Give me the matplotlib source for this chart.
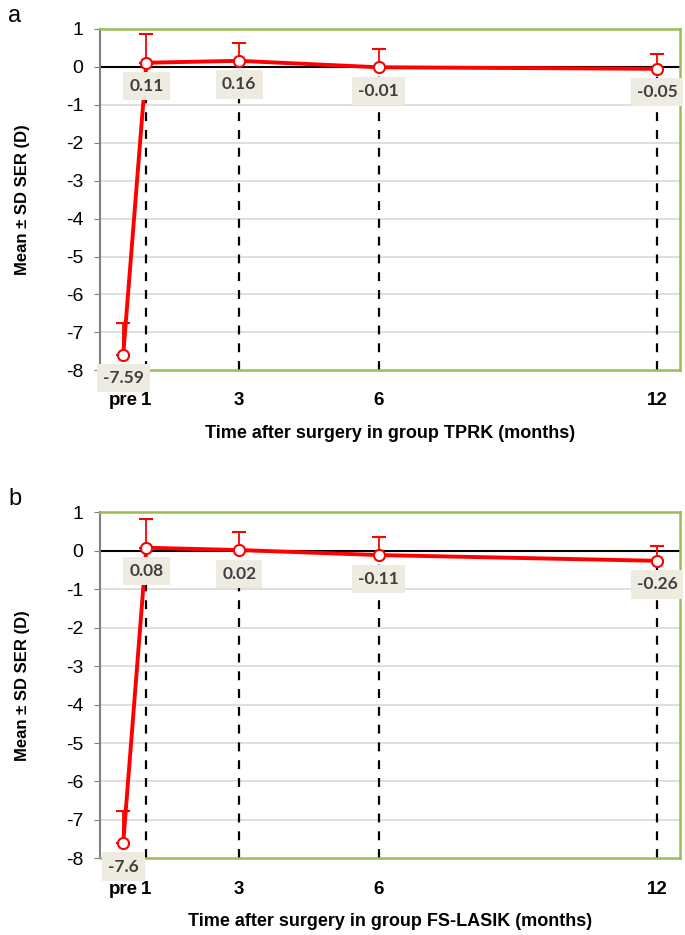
import matplotlib
matplotlib.use('Agg')
import matplotlib.pyplot as plt
import numpy as np

plt.rcParams['font.family'] = ['Liberation Sans', 'DejaVu Sans']

# time points (pre drawn at x=0.5)
tick_labels = ['pre', '1', '3', '6', '12']
x_pos = [0.5, 1, 3, 6, 12]

tprk_mean = [-7.59, 0.11, 0.16, -0.01, -0.05]
tprk_sd = [0.84, 0.76, 0.46, 0.48, 0.40]

lasik_mean = [-7.6, 0.08, 0.02, -0.11, -0.26]
lasik_sd = [0.83, 0.74, 0.46, 0.47, 0.39]

panels = [
    ('a', 'TPRK', tprk_mean, tprk_sd, [0.146, 0.604, 0.847, 0.365]),
    ('b', 'FS-LASIK', lasik_mean, lasik_sd, [0.146, 0.082, 0.847, 0.370]),
]

green = '#9BBB59'
red = '#FF0000'

fig = plt.figure(figsize=(6.85, 9.35), dpi=100)

for letter, group, mean, sd, rect in panels:
    ax = fig.add_axes(rect)
    ax.set_xlim(0, 12.5)
    ax.set_ylim(-8, 1)

    # gridlines
    for yv in range(-7, 1):
        ax.axhline(yv, color='#D9D9D9', linewidth=1.2, zorder=0)
    ax.axhline(0, color='black', linewidth=1.5, zorder=1)

    # dashed drop lines (not for pre)
    for xv, m in zip(x_pos[1:], mean[1:]):
        ax.plot([xv, xv], [-8, m], color='black', linestyle=(0, (4, 4)),
                linewidth=1.6, zorder=2)

    # upper error bars
    ax.errorbar(x_pos, mean, yerr=[np.zeros(len(sd)), sd], fmt='none',
                ecolor=red, elinewidth=1.3, capsize=5, capthick=1.5, zorder=3)

    ax.plot(x_pos, mean, color=red, linewidth=2.8, marker='o',
            markersize=8, markerfacecolor='white', markeredgecolor=red,
            markeredgewidth=1.5, zorder=4, clip_on=False)

    for xv, m in zip(x_pos, mean):
        ax.annotate(f'{m:g}', (xv, m), textcoords='offset points',
                    xytext=(0, -17), ha='center', va='center',
                    fontsize=12.5, fontweight='bold', color='#404040',
                    family=['Lato', 'DejaVu Sans'],
                    bbox=dict(boxstyle='square,pad=0.35', facecolor='#EEECE1',
                              edgecolor='none'),
                    zorder=5, annotation_clip=False)

    ax.set_xticks(x_pos)
    ax.set_xticklabels(tick_labels, fontweight='bold', fontsize=13.5)
    ax.set_yticks(range(-8, 2))
    ax.set_yticklabels([str(v) for v in range(-8, 2)], fontsize=14)
    ax.tick_params(axis='x', length=0, pad=16)
    ax.tick_params(axis='y', length=4, color='#808080', pad=8)

    for side in ['top', 'right', 'bottom']:
        ax.spines[side].set_color(green)
        ax.spines[side].set_linewidth(1.8)
    ax.spines['left'].set_color('#808080')
    ax.spines['left'].set_linewidth(1.5)

    ax.set_xlabel(f'Time after surgery in group {group} (months)',
                  fontsize=13, fontweight='bold', labelpad=11)
    ax.set_ylabel('Mean \u00b1 SD SER (D)', fontsize=12, fontweight='bold',
                  labelpad=26)

    fig.text(0.012, rect[1] + rect[3] + 0.026, letter, fontsize=17,
             va='top', ha='left')

fig.savefig('out.png', dpi=100, facecolor='white')
